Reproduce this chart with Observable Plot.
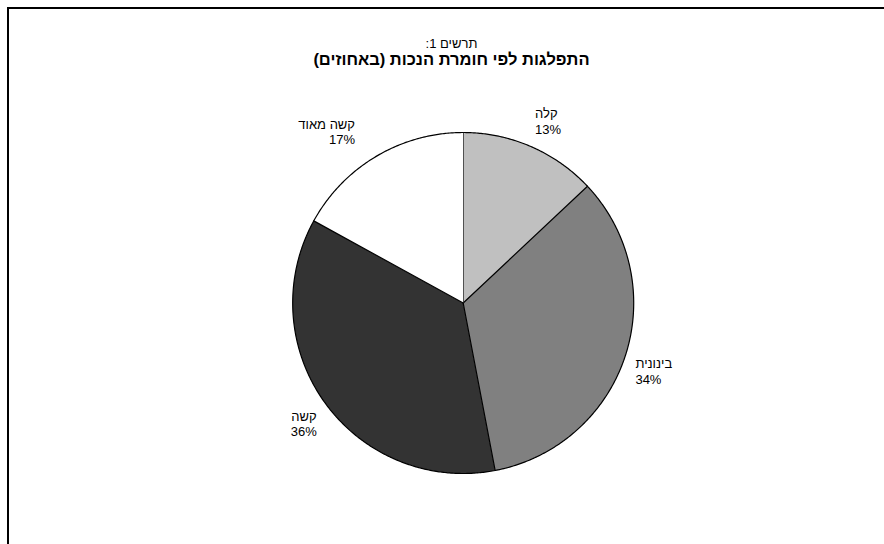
<!DOCTYPE html>
<html>
<head>
<meta charset="utf-8">
<script src="https://cdn.jsdelivr.net/npm/d3@7"></script>
<script src="https://cdn.jsdelivr.net/npm/@observablehq/plot@0.6"></script>
<style>
  html, body { margin: 0; padding: 0; background: #fff; overflow: hidden; }
  #wrap { position: relative; width: 884px; height: 544px; overflow: hidden; }
  #frame { position: absolute; left: 7px; top: 7px; width: 1000px; height: 1000px; border: 2px solid #000; box-sizing: border-box; z-index: 2; pointer-events: none; }
  #chart { position: absolute; left: 0; top: 0; }
</style>
</head>
<body>
<div id="wrap"><div id="chart"></div><div id="frame"></div></div>
<script>
const categories = ["קלה", "בינונית", "קשה", "קשה מאוד"];
const values = [13, 34, 36, 17];
const colors = ["#c0c0c0", "#808080", "#333333", "#ffffff"];
const titleLine1 = "תרשים 1:";
const titleLine2 = "התפלגות לפי חומרת הנכות (באחוזים)";

const W = 884, H = 544;
const cx = 462.7, cy = 302.5, R = 170.5;

const total = d3.sum(values);
const slices = [];
const labels = [];
let acc = 0;
categories.forEach((cat, i) => {
  const a0 = acc / total * 2 * Math.PI;
  acc += values[i];
  const a1 = acc / total * 2 * Math.PI;
  const n = Math.max(2, Math.ceil((a1 - a0) / (Math.PI / 360)));
  slices.push({cat, x: 0, y: 0});
  for (let k = 0; k <= n; k++) {
    const a = a0 + (a1 - a0) * k / n;
    slices.push({cat, x: Math.sin(a), y: Math.cos(a)});
  }
  const m = (a0 + a1) / 2;
  labels.push({
    text: cat + "\n" + values[i] + "%",
    x: 1.062 * Math.sin(m),
    y: 1.062 * Math.cos(m),
    right: Math.sin(m) > 0,
    upper: Math.cos(m) > 0
  });
});

const labelMarks = [
  ["start", "bottom", 0, -3, d => d.right && d.upper],
  ["start", "top", 0, -2, d => d.right && !d.upper],
  ["end", "top", 0, 0, d => !d.right && !d.upper],
  ["end", "bottom", -16, -3, d => !d.right && d.upper]
].map(([ta, la, dx, dy, f]) => Plot.text(labels.filter(f), {
  x: "x", y: "y", text: "text", dx, dy,
  textAnchor: ta, lineAnchor: la,
  fontSize: 13, lineHeight: 1.2, fill: "#000"
}));

const plot = Plot.plot({
  width: W, height: H,
  margin: 0,
  style: {fontFamily: "Liberation Sans, Arial, sans-serif", background: "transparent", overflow: "visible"},
  x: {domain: [-cx / R, (W - cx) / R], range: [0, W], axis: null},
  y: {domain: [-(H - cy) / R, cy / R], range: [H, 0], axis: null},
  color: {domain: categories, range: colors},
  marks: [
    Plot.line(slices, {x: "x", y: "y", z: "cat", fill: "cat", stroke: "#000", strokeWidth: 1.2, curve: "linear"}),
    ...labelMarks,
    Plot.text([titleLine1], {frameAnchor: "top", dy: 47, dx: 9, fontSize: 13, fill: "#000", lineAnchor: "bottom"}),
    Plot.text([titleLine2], {frameAnchor: "top", dy: 64, dx: 9, fontSize: 16.5, fontWeight: "bold", fill: "#000", lineAnchor: "bottom"})
  ]
});
plot.querySelectorAll("text").forEach(t => {
  if (t.textContent === titleLine1 || t.textContent === titleLine2) t.setAttribute("direction", "rtl");
});
document.getElementById("chart").appendChild(plot);
</script>
</body>
</html>
